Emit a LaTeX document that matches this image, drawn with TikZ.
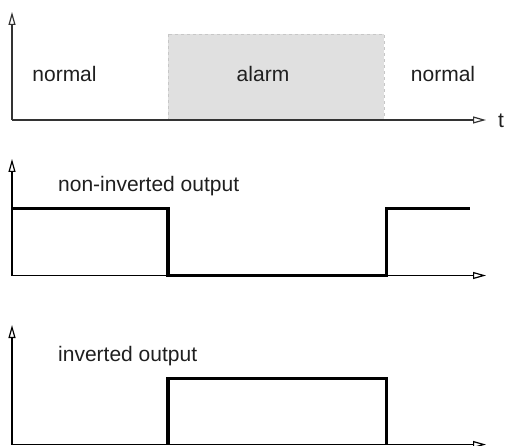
\documentclass[tikz,border=0pt]{standalone}
\usepackage{fontspec}
\setmainfont{Liberation Sans}
\usetikzlibrary{arrows.meta}
\begin{document}
\begin{tikzpicture}[x=1pt,y=-1pt,
  axis/.style={line width=1.5pt,-{Triangle[open,length=13pt,width=7pt,line width=1.2pt]}},
  sig/.style={line width=3.4pt,line join=miter,line cap=butt},
  lbl/.style={anchor=base,inner sep=0pt,font=\fontsize{21}{25}\selectfont,text=black!88},
  alarmbox/.style={fill=black!12,draw=black!22,dashed,line width=0.8pt}]
\useasboundingbox (0,0) rectangle (505,446);
% top panel
\fill[alarmbox] (168,34) rectangle (384,120);
\coordinate (o1) at (12,120);
\coordinate (y1) at (12,12);
\coordinate (x1) at (486,120);
\draw[axis,draw=black!80] (o1) -- (y1);
\draw[axis,draw=black!80] (o1) -- (x1);
\node[lbl] (n1) at (64.5,82) {normal};
\node[lbl] (al) at (263,82) {alarm};
\node[lbl] (n2) at (443,82) {normal};
\node[lbl] (t) at (501,128) {t};
% middle panel
\coordinate (o2) at (12,275.5);
\coordinate (y2) at (12,159);
\coordinate (x2) at (486,275.5);
\draw[axis] (o2) -- (y2);
\draw[axis] (o2) -- (x2);
\node[lbl,anchor=base west] (ni) at (58,191.5) {non-inverted output};
\draw[sig] (12,208.3) -- (168,208.3) -- (168,275.5) -- (386.7,275.5) -- (386.7,208.3) -- (470,208.3);
% bottom panel
\coordinate (o3) at (12,444.5);
\coordinate (y3) at (12,325);
\coordinate (x3) at (486,444.5);
\draw[axis] (o3) -- (y3);
\draw[axis] (o3) -- (x3);
\node[lbl,anchor=base west] (io) at (58,361.5) {inverted output};
\draw[sig] (168,444.5) -- (168,378.7) -- (386.7,378.7) -- (386.7,444.5);
\end{tikzpicture}
\end{document}
